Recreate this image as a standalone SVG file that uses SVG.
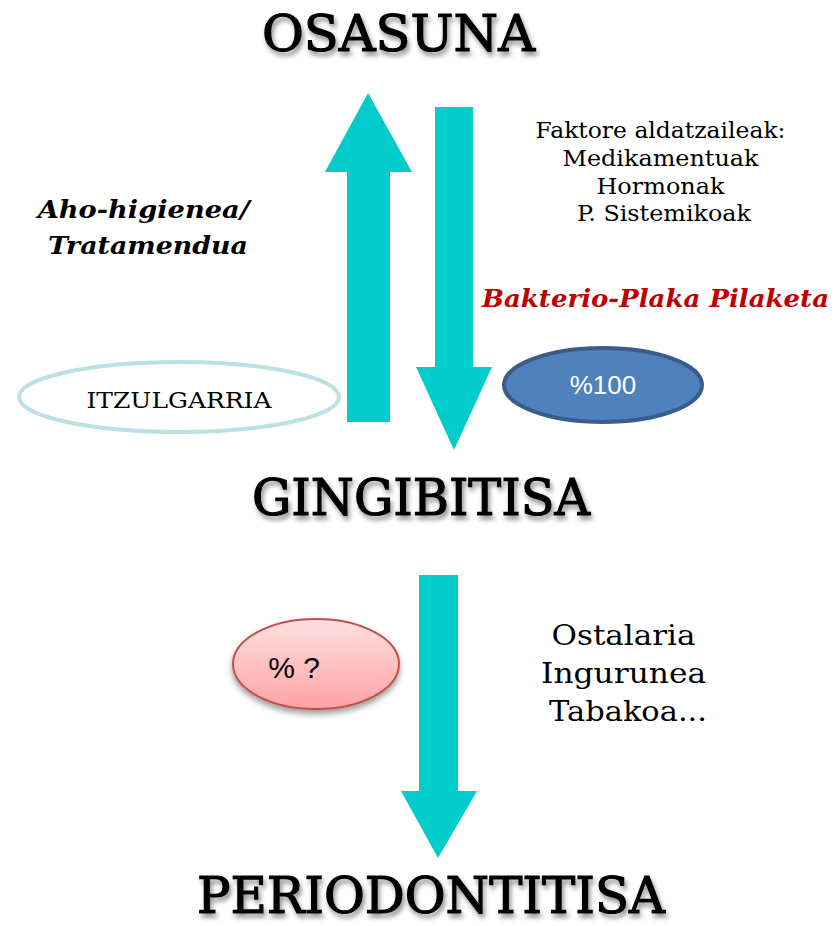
<svg xmlns="http://www.w3.org/2000/svg" width="834" height="926" viewBox="0 0 834 926">
<defs>
<filter id="tshadow" x="-10%" y="-30%" width="120%" height="170%">
<feGaussianBlur in="SourceAlpha" stdDeviation="2.5"/>
<feOffset dx="2" dy="4" result="b"/>
<feComponentTransfer><feFuncA type="linear" slope="0.45"/></feComponentTransfer>
<feMerge><feMergeNode/><feMergeNode in="SourceGraphic"/></feMerge>
</filter>
<filter id="eshadow" x="-20%" y="-20%" width="140%" height="160%">
<feGaussianBlur in="SourceAlpha" stdDeviation="3"/>
<feOffset dx="0" dy="4" result="b"/>
<feComponentTransfer><feFuncA type="linear" slope="0.4"/></feComponentTransfer>
<feMerge><feMergeNode/><feMergeNode in="SourceGraphic"/></feMerge>
</filter>
<linearGradient id="pink" x1="0" y1="0" x2="0" y2="1">
<stop offset="0" stop-color="#ffe0e0"/>
<stop offset="1" stop-color="#ffa3a3"/>
</linearGradient>
<style>
.title{font-family:"DejaVu Serif",serif;font-size:50px;fill:#000;stroke:#000;stroke-width:1.2px;}
.serif{font-family:"DejaVu Serif",serif;fill:#000;}
.arrow{fill:#00cccc;}
</style>
</defs>

<g id="connectors">
<path class="arrow" d="M368,93 L412,172 L390,172 L390,422 L347,422 L347,172 L325,172 Z"/>
<path class="arrow" d="M435,107 L473,107 L473,367 L492,367 L454,450 L416,367 L435,367 Z"/>
<path class="arrow" d="M419,575 L458,575 L458,791 L477,791 L438,858 L401,791 L419,791 Z"/>
</g>

<g id="osasuna">
<text class="title" x="262" y="51" textLength="273" lengthAdjust="spacingAndGlyphs" filter="url(#tshadow)">OSASUNA</text>
</g>
<g id="gingibitisa">
<text class="title" x="252" y="515" textLength="338" lengthAdjust="spacingAndGlyphs" filter="url(#tshadow)">GINGIBITISA</text>
</g>
<g id="periodontitisa">
<text class="title" x="197" y="913" textLength="468" lengthAdjust="spacingAndGlyphs" filter="url(#tshadow)">PERIODONTITISA</text>
</g>

<g id="aho">
<text class="serif" font-size="25" font-weight="bold" font-style="italic" text-anchor="middle">
<tspan x="148" y="218" textLength="212" lengthAdjust="spacingAndGlyphs">Aho-higienea/</tspan>
<tspan x="148" y="254" textLength="200" lengthAdjust="spacingAndGlyphs">Tratamendua</tspan>
</text>
</g>

<g id="faktore">
<text class="serif" font-size="22" text-anchor="middle">
<tspan x="664" y="138" textLength="250" lengthAdjust="spacingAndGlyphs">Faktore aldatzaileak:</tspan>
<tspan x="664" y="166" textLength="196" lengthAdjust="spacingAndGlyphs">Medikamentuak</tspan>
<tspan x="664" y="194" textLength="128" lengthAdjust="spacingAndGlyphs">Hormonak</tspan>
<tspan x="664" y="221" textLength="174" lengthAdjust="spacingAndGlyphs">P. Sistemikoak</tspan>
</text>
</g>

<g id="bakterio">
<text class="serif" x="482" y="307" font-size="25" font-weight="bold" font-style="italic" style="fill:#c00000" textLength="347" lengthAdjust="spacingAndGlyphs">Bakterio-Plaka Pilaketa</text>
</g>

<g id="itzulgarria">
<ellipse cx="179" cy="397" rx="160" ry="35" fill="#fff" stroke="#bde0e2" stroke-width="4"/>
<text class="serif" x="179" y="408" font-size="22" text-anchor="middle" textLength="185" lengthAdjust="spacingAndGlyphs">ITZULGARRIA</text>
</g>

<g id="ehun">
<ellipse cx="603" cy="385" rx="99" ry="37" fill="#4f81bd" stroke="#385d8a" stroke-width="4"/>
<text x="603" y="394" font-family="Liberation Sans, Arial, sans-serif" font-size="26" fill="#fff" text-anchor="middle">%100</text>
</g>

<g id="ehuneko">
<ellipse cx="316" cy="664" rx="83" ry="45" fill="url(#pink)" stroke="#c0504d" stroke-width="2" filter="url(#eshadow)"/>
<text x="294" y="678" font-family="Liberation Sans, Arial, sans-serif" font-size="30" fill="#000" text-anchor="middle">% ?</text>
</g>

<g id="ostalaria">
<text class="serif" font-size="28" text-anchor="middle">
<tspan x="628" y="645" textLength="144" lengthAdjust="spacingAndGlyphs">Ostalaria</tspan>
<tspan x="628" y="683" textLength="165" lengthAdjust="spacingAndGlyphs">Ingurunea</tspan>
<tspan x="628" y="721" textLength="158" lengthAdjust="spacingAndGlyphs">Tabakoa...</tspan>
</text>
</g>
</svg>
